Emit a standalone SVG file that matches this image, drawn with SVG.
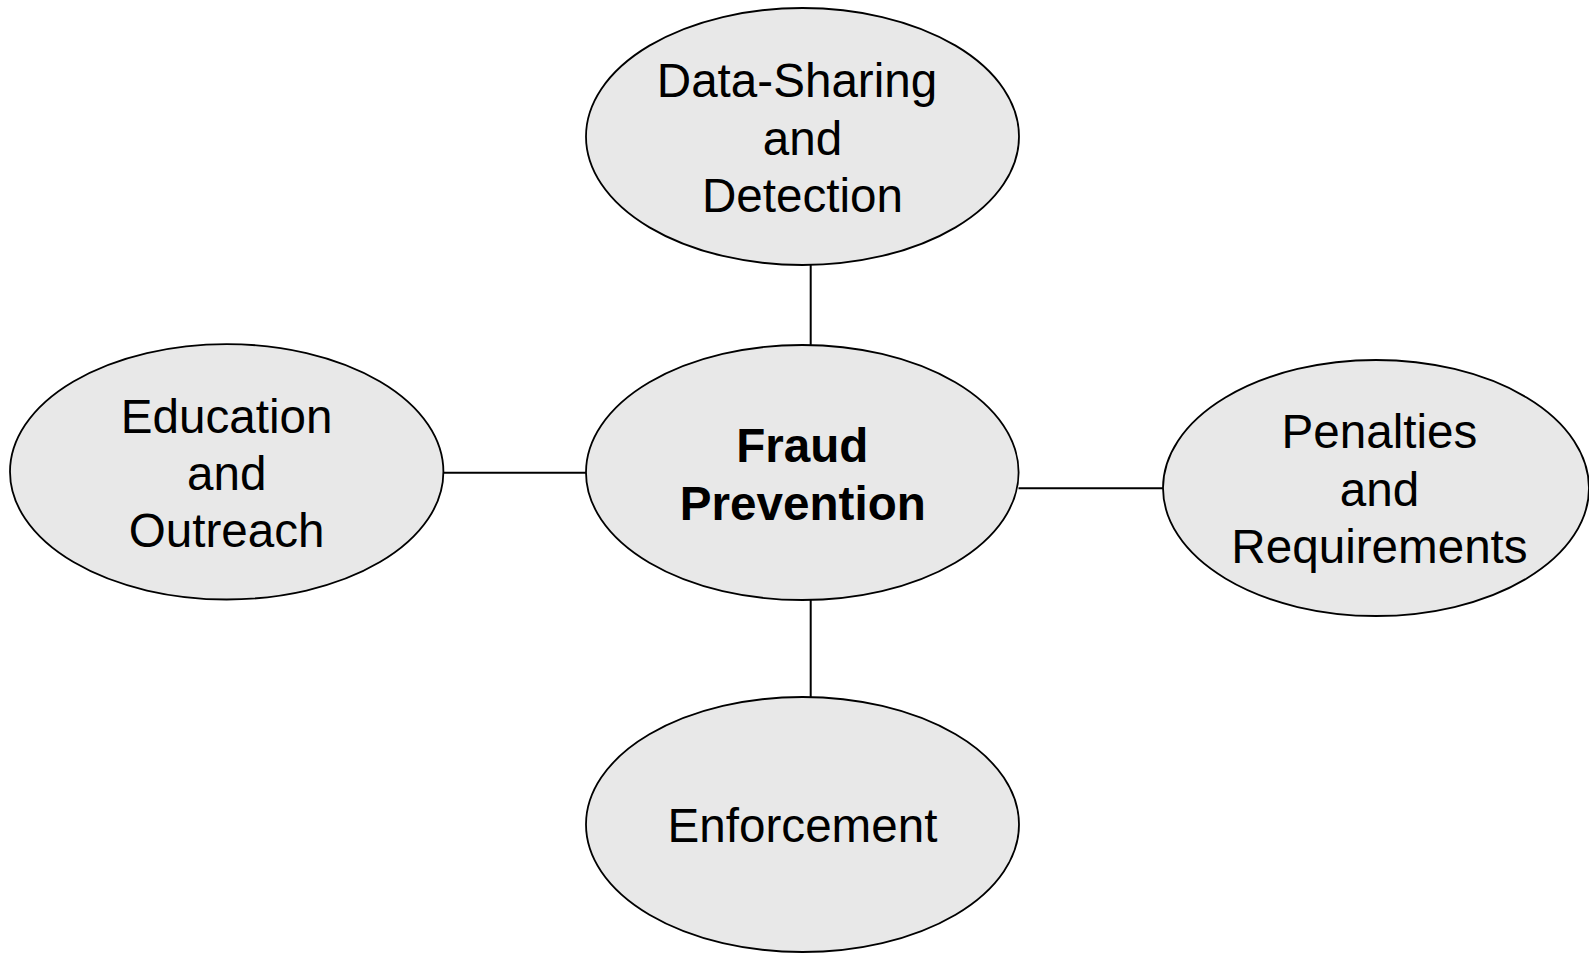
<svg xmlns="http://www.w3.org/2000/svg" width="1589" height="953" viewBox="0 0 1589 953">
<style>
.node ellipse{fill:#e8e8e8;stroke:#000;stroke-width:1.8}
.lbl{font-family:"Liberation Sans",Arial,sans-serif;font-size:47.6px;fill:#000;text-anchor:middle}
.bold{font-weight:bold}
.conn line{stroke:#000;stroke-width:2}
</style>
<rect width="1589" height="953" fill="#fff"/>
<g id="connectors" class="conn">
<line x1="810.7" y1="265" x2="810.7" y2="345"/>
<line x1="810.7" y1="600" x2="810.7" y2="697"/>
<line x1="443" y1="472.8" x2="586" y2="472.8"/>
<line x1="1018.5" y1="488.3" x2="1163" y2="488.3"/>
</g>
<g id="data-sharing" class="node">
<ellipse cx="802.5" cy="136.5" rx="216.5" ry="128.5"/>
<text class="lbl" x="797" y="97">Data-Sharing</text>
<text class="lbl" x="802.5" y="155">and</text>
<text class="lbl" x="802.5" y="212">Detection</text>
</g>
<g id="fraud-prevention" class="node">
<ellipse cx="802.3" cy="472.5" rx="216.3" ry="127.5"/>
<text class="lbl bold" x="802.3" y="461.7">Fraud</text>
<text class="lbl bold" x="802.8" y="520">Prevention</text>
</g>
<g id="education" class="node">
<ellipse cx="226.7" cy="471.8" rx="216.7" ry="127.7"/>
<text class="lbl" x="226.7" y="432.7">Education</text>
<text class="lbl" x="226.7" y="490">and</text>
<text class="lbl" x="226.7" y="546.7">Outreach</text>
</g>
<g id="penalties" class="node">
<ellipse cx="1376" cy="488" rx="213" ry="128"/>
<text class="lbl" x="1379.5" y="448">Penalties</text>
<text class="lbl" x="1379.5" y="506">and</text>
<text class="lbl" x="1379.5" y="563">Requirements</text>
</g>
<g id="enforcement" class="node">
<ellipse cx="802.5" cy="824.5" rx="216.5" ry="127.5"/>
<text class="lbl" x="802.5" y="842">Enforcement</text>
</g>
</svg>
